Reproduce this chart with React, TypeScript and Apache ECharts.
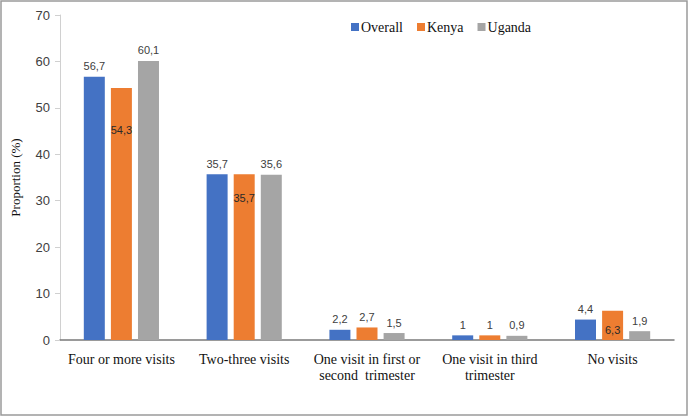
import React, { useEffect, useRef } from "react";
import * as echarts from "echarts";

const categories = [
  "Four or more visits",
  "Two-three visits",
  "One visit in first or\nsecond  trimester",
  "One visit in third\ntrimester",
  "No visits",
];
const overall = [56.7, 35.7, 2.2, 1, 4.4];
const kenya = [54.3, 35.7, 2.7, 1, 6.3];
const uganda = [60.1, 35.6, 1.5, 0.9, 1.9];
const kenyaLabelOffsets = [32, 13, null, null, 9];

const fmt = (p: any) => String(p.value).replace(".", ",");
const serif = "'Liberation Serif', 'Times New Roman', serif";

export default function App() {
  const ref = useRef<HTMLDivElement>(null);
  useEffect(() => {
    document.body.style.margin = "0";
    const chart = echarts.init(ref.current!, null, { renderer: "svg" });
    const labelFont = { fontFamily: "Liberation Sans", fontSize: 11, color: "#404040" };
    chart.setOption({
      animation: false,
      backgroundColor: "#fff",
      textStyle: { fontFamily: serif },
      graphic: [
        {
          type: "rect",
          shape: { x: 1, y: 1, width: 686, height: 414 },
          style: { fill: "none", stroke: "#9a9a9a", lineWidth: 1.5 },
          silent: true,
        },
      ],
      legend: {
        top: 15,
        left: 346,
        itemWidth: 8,
        itemHeight: 8,
        itemGap: 14,
        icon: "rect",
        textStyle: { fontFamily: serif, fontSize: 14, color: "#111", padding: [0, 0, 0, -3] },
        data: ["Overall", "Kenya", "Uganda"],
      },
      grid: { left: 60, right: 15, top: 15, bottom: 77, containLabel: false },
      xAxis: {
        type: "category",
        data: categories,
        axisLine: { lineStyle: { color: "#7a7a7a", width: 1.5 } },
        axisTick: { show: false },
        axisLabel: {
          interval: 0,
          margin: 11,
          fontFamily: serif,
          fontSize: 14,
          color: "#111",
          lineHeight: 16,
        },
      },
      yAxis: {
        type: "value",
        min: 0,
        max: 70,
        interval: 10,
        name: "Proportion (%)",
        nameLocation: "middle",
        nameGap: 38,
        nameTextStyle: { fontFamily: serif, fontSize: 13, color: "#111" },
        splitLine: { show: false },
        axisLine: { show: true, lineStyle: { color: "#d0d0d0" } },
        axisTick: { show: true, length: 5, lineStyle: { color: "#d0d0d0" } },
        axisLabel: { fontFamily: "Liberation Sans", fontSize: 13, color: "#404040", margin: 10 },
      },
      series: [
        {
          name: "Overall",
          type: "bar",
          data: overall,
          barWidth: 21,
          barGap: "29%",
          itemStyle: { color: "#4472C4" },
          label: { show: true, position: "top", distance: 5, formatter: fmt, ...labelFont },
        },
        {
          name: "Kenya",
          type: "bar",
          data: kenya.map((v, i) => {
            const off = kenyaLabelOffsets[i];
            return off == null
              ? { value: v, label: { position: "top", distance: 5 } }
              : { value: v, label: { position: "insideTop", offset: [0, off], color: "#2a2a2a" } };
          }),
          barWidth: 21,
          barGap: "29%",
          itemStyle: { color: "#ED7D31" },
          label: { show: true, formatter: fmt, ...labelFont },
        },
        {
          name: "Uganda",
          type: "bar",
          data: uganda,
          barWidth: 21,
          barGap: "29%",
          itemStyle: { color: "#A5A5A5" },
          label: { show: true, position: "top", distance: 5, formatter: fmt, ...labelFont },
        },
      ],
    });
    return () => chart.dispose();
  }, []);
  return (
    <div
      ref={ref}
      style={{ position: "fixed", left: 0, top: 0, width: 689, height: 417 }}
    />
  );
}
